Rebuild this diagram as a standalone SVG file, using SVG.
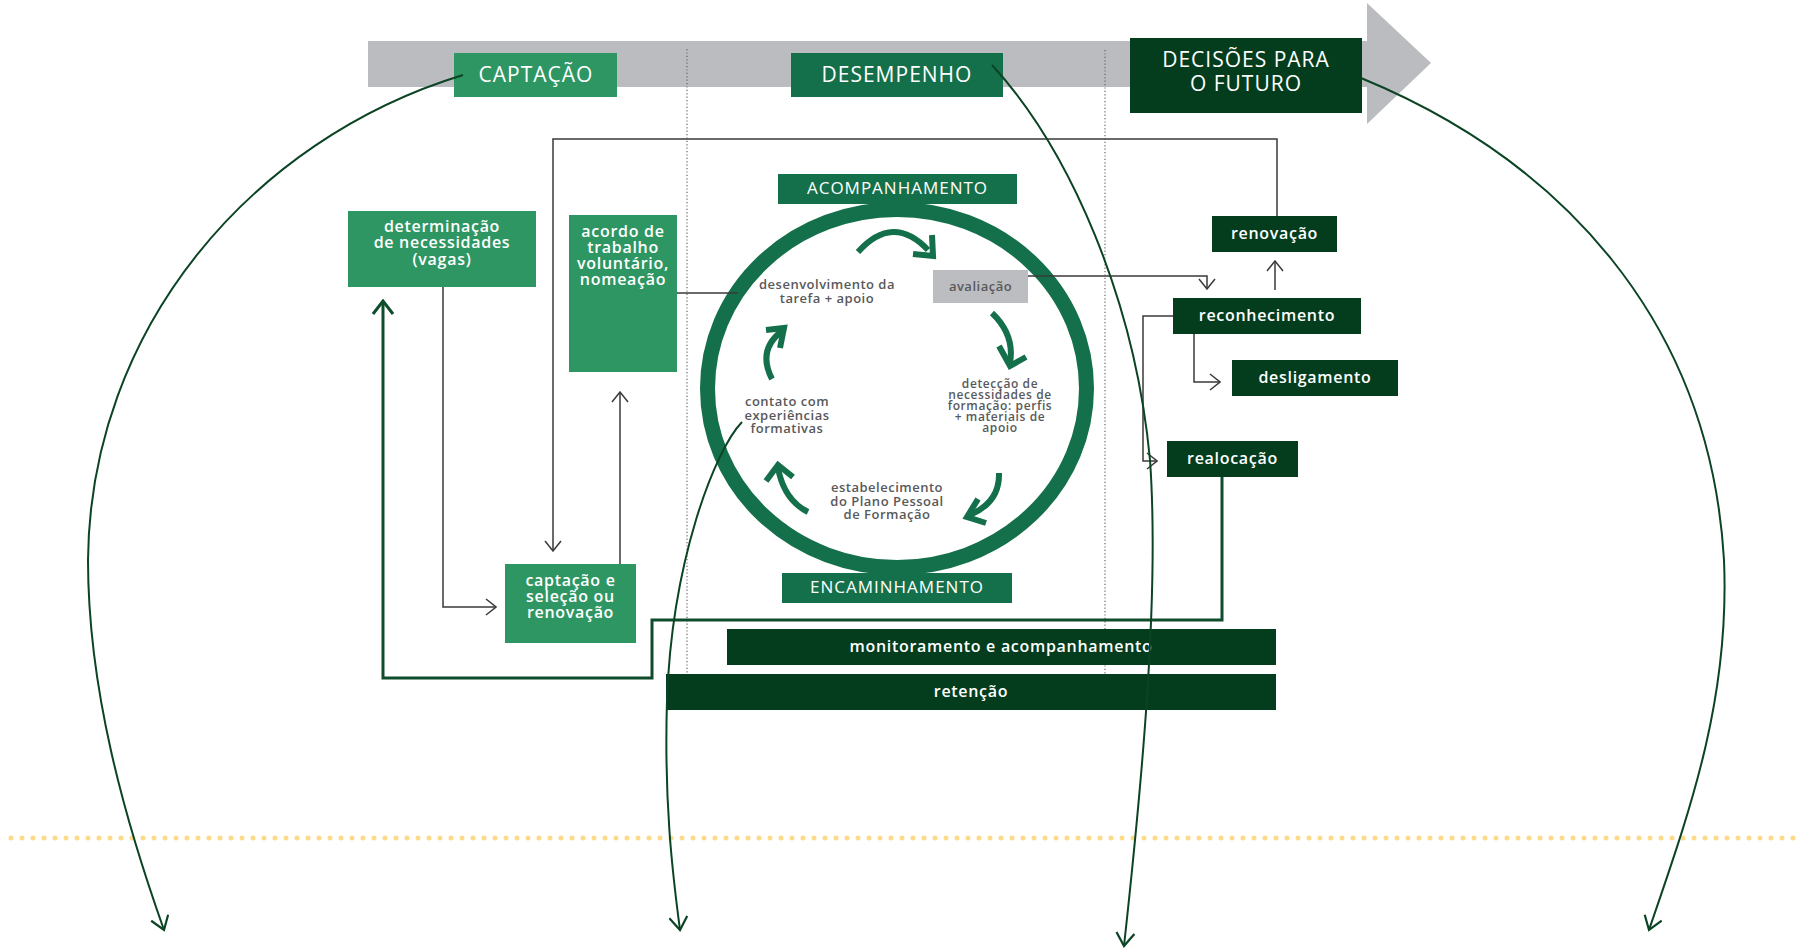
<svg xmlns="http://www.w3.org/2000/svg" width="1803" height="949" viewBox="0 0 1803 949">
<defs>
<style>
.hd{font-family:"Open Sans","Liberation Sans",sans-serif;font-size:21px;fill:#fff;letter-spacing:1px;text-anchor:middle}
.sub{font-family:"Open Sans","Liberation Sans",sans-serif;font-size:17px;fill:#fff;letter-spacing:1px;text-anchor:middle}
.bx{font-family:"Open Sans","Liberation Sans",sans-serif;font-size:16px;font-weight:600;fill:#fff;letter-spacing:0.7px;text-anchor:middle}
.ct{font-family:"Open Sans","Liberation Sans",sans-serif;font-size:13px;font-weight:600;fill:#58595b;letter-spacing:0.5px;text-anchor:middle}
.ct2{font-family:"Open Sans","Liberation Sans",sans-serif;font-size:12px;font-weight:600;fill:#58595b;letter-spacing:0.6px;text-anchor:middle}
.g1{fill:#2e9663}
.g2{fill:#14704a}
.g3{fill:#033d1e}
.thin{fill:none;stroke:#3a3a3a;stroke-width:1.5}
.thick{fill:none;stroke:#0e4d2b;stroke-width:3}
.curve{fill:none;stroke:#0b4425;stroke-width:2}
.cyc{fill:none;stroke:#14704a;stroke-width:6}
.vdot{fill:none;stroke:#666;stroke-width:1.2;stroke-dasharray:1.2 2.2}
</style>
<marker id="mThin" viewBox="0 0 12 18" markerWidth="12" markerHeight="18" refX="11" refY="9" orient="auto" markerUnits="userSpaceOnUse">
<path d="M1,1 L11,9 L1,17" fill="none" stroke="#3a3a3a" stroke-width="1.5"/>
</marker>
<marker id="mThick" viewBox="0 0 16 24" markerWidth="16" markerHeight="24" refX="14" refY="12" orient="auto" markerUnits="userSpaceOnUse">
<path d="M1,2 L14,12 L1,22" fill="none" stroke="#0e4d2b" stroke-width="3"/>
</marker>
<marker id="mCurve" viewBox="0 0 16 20" markerWidth="16" markerHeight="20" refX="14" refY="10" orient="auto" markerUnits="userSpaceOnUse">
<path d="M1,1 L14,10 L1,19" fill="none" stroke="#0b4425" stroke-width="2.2"/>
</marker>
</defs>
<rect width="1803" height="949" fill="#fff"/>

<g id="timeline">
<rect x="368" y="41" width="999" height="46" fill="#bbbcbf"/>
<polygon points="1367,3 1431,63 1367,124" fill="#bbbcbf"/>
</g>

<g id="yellow-line">
<line x1="11" y1="838" x2="1800" y2="838" stroke="#fdd98a" stroke-width="5" stroke-linecap="round" stroke-dasharray="0 11"/>
</g>

<g id="dividers">
<line class="vdot" x1="687" y1="49" x2="687" y2="708"/>
<line class="vdot" x1="1105" y1="50" x2="1105" y2="708"/>
</g>

<g id="node-captacao"><rect class="g1" x="454" y="53" width="163" height="44"/><text class="hd" x="536" y="82">CAPTAÇÃO</text></g>
<g id="node-desempenho"><rect class="g2" x="791" y="53" width="212" height="44"/><text class="hd" x="897" y="82">DESEMPENHO</text></g>
<g id="node-decisoes"><rect class="g3" x="1130" y="38" width="232" height="75"/><text class="hd" x="1246" y="67">DECISÕES PARA</text><text class="hd" x="1246" y="91">O FUTURO</text></g>

<g id="node-determinacao"><rect class="g1" x="348" y="211" width="188" height="76"/>
<text class="bx" x="442" y="232">determinação</text><text class="bx" x="442" y="248">de necessidades</text><text class="bx" x="442" y="265">(vagas)</text></g>
<g id="node-acordo"><rect class="g1" x="569" y="215" width="108" height="157"/>
<text class="bx" x="623" y="237">acordo de</text><text class="bx" x="623" y="253">trabalho</text><text class="bx" x="623" y="269">voluntário,</text><text class="bx" x="623" y="285">nomeação</text></g>
<g id="node-captacao-selecao"><rect class="g1" x="505" y="564" width="131" height="79"/>
<text class="bx" x="570.5" y="586">captação e</text><text class="bx" x="570.5" y="602">seleção ou</text><text class="bx" x="570.5" y="618">renovação</text></g>

<g id="node-ciclo">
<ellipse cx="897" cy="388.5" rx="189.5" ry="179" fill="none" stroke="#14704a" stroke-width="15"/>
<path class="cyc" d="M858,252 Q893,213 928,250"/><polyline class="cyc" points="913,254 933,256 932,235"/>
<path class="cyc" d="M992,313 Q1015,335 1010,363"/><polyline class="cyc" points="999,346 1010,366 1026,357"/>
<path class="cyc" d="M999,473 Q1000,502 970,515"/><polyline class="cyc" points="978,499 967,517 986,523"/>
<path class="cyc" d="M808,512 Q784,500 778,468"/><polyline class="cyc" points="766,481 778,465 793,477"/>
<path class="cyc" d="M772,379 Q757,350 782,331"/><polyline class="cyc" points="766,330 784,328 780,348"/>
<text class="ct" x="827" y="289">desenvolvimento da</text><text class="ct" x="827" y="303">tarefa + apoio</text>
<text class="ct" x="787" y="406">contato com</text><text class="ct" x="787" y="420">experiências</text><text class="ct" x="787" y="433">formativas</text>
<text class="ct2" x="1000" y="388">detecção de</text><text class="ct2" x="1000" y="399">necessidades de</text><text class="ct2" x="1000" y="410">formação: perfis</text><text class="ct2" x="1000" y="421">+ materiais de</text><text class="ct2" x="1000" y="432">apoio</text>
<text class="ct" x="887" y="492">estabelecimento</text><text class="ct" x="887" y="506">do Plano Pessoal</text><text class="ct" x="887" y="519">de Formação</text>
</g>
<g id="node-avaliacao"><rect x="933" y="270" width="95" height="33" fill="#bcbdc0"/><text class="ct" x="980.5" y="291">avaliação</text></g>
<g id="node-acompanhamento"><rect class="g2" x="778" y="174" width="239" height="30"/><text class="sub" x="897.5" y="194">ACOMPANHAMENTO</text></g>
<g id="node-encaminhamento"><rect class="g2" x="782" y="573" width="230" height="30"/><text class="sub" x="897" y="593">ENCAMINHAMENTO</text></g>

<g id="node-renovacao"><rect class="g3" x="1212" y="216" width="125" height="36"/><text class="bx" x="1274.5" y="239">renovação</text></g>
<g id="node-reconhecimento"><rect class="g3" x="1173" y="298" width="188" height="36"/><text class="bx" x="1267" y="321">reconhecimento</text></g>
<g id="node-desligamento"><rect class="g3" x="1232" y="360" width="166" height="36"/><text class="bx" x="1315" y="383">desligamento</text></g>
<g id="node-realocacao"><rect class="g3" x="1167" y="441" width="131" height="36"/><text class="bx" x="1232.5" y="464">realocação</text></g>
<g id="node-monitoramento"><rect class="g3" x="727" y="629" width="549" height="36"/><text class="bx" x="1001" y="652">monitoramento e acompanhamento</text></g>
<g id="node-retencao"><rect class="g3" x="666" y="674" width="610" height="36"/><text class="bx" x="971" y="697">retenção</text></g>

<g id="connectors">
<path class="thin" d="M1277,216 V139 H553 V551" marker-end="url(#mThin)"/>
<path class="thin" d="M443,287 V607 H496" marker-end="url(#mThin)"/>
<path class="thin" d="M620,564 V392" marker-end="url(#mThin)"/>
<path class="thin" d="M677,293 H738"/>
<path class="thin" d="M1028,276 H1207 V289" marker-end="url(#mThin)"/>
<path class="thin" d="M1275,290 V261" marker-end="url(#mThin)"/>
<path class="thin" d="M1173,316 H1143 V461 H1157" marker-end="url(#mThin)"/>
<path class="thin" d="M1194,334 V382 H1220" marker-end="url(#mThin)"/>
<path class="thick" d="M1222,477 V620 H652 V678 H383 V301" marker-end="url(#mThick)"/>
<path class="curve" d="M463,75 C250,140 90,330 88,560 C88,690 125,820 164,930" marker-end="url(#mCurve)"/>
<path class="curve" d="M742,422 C715,450 672,560 667,700 C664,800 672,870 680,930" marker-end="url(#mCurve)"/>
<path class="curve" d="M992,65 C1070,150 1135,300 1150,460 C1160,600 1140,800 1124,946" marker-end="url(#mCurve)"/>
<path class="curve" d="M1361,78 C1560,160 1710,320 1724,560 C1730,700 1690,810 1649,930" marker-end="url(#mCurve)"/>
</g>
</svg>
